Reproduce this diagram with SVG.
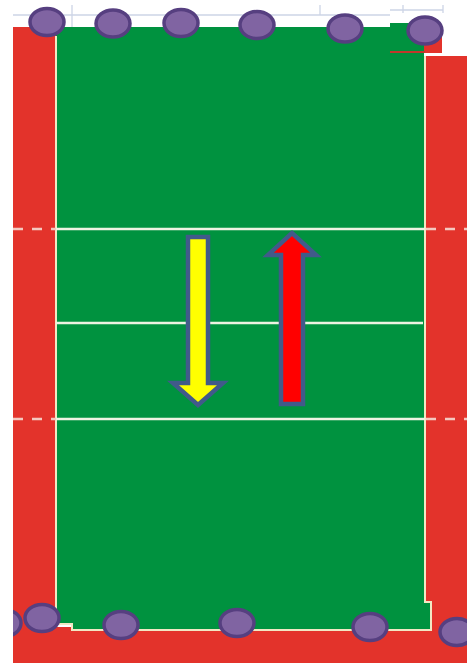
<svg xmlns="http://www.w3.org/2000/svg" width="467" height="663" viewBox="0 0 467 663">
<style>
.red{fill:#E3332B}
.grid{stroke:#CDD5E6;stroke-width:1.3;fill:none}
.edge{stroke:#F2E8C4;stroke-width:2;fill:none}
.line{stroke:#EEF3E2;stroke-width:2.5;fill:none}
.dash{stroke:#F4C9C0;stroke-width:2.5;fill:none;stroke-dasharray:10 9}
.ball{fill:#8064A2;stroke:#563F80;stroke-width:3.5}
.arrow{stroke:#415A8A;stroke-width:4.5;stroke-linejoin:miter}
</style>
<rect width="467" height="663" fill="#FFFFFF"/>
<g id="grid">
<path class="grid" d="M13 15H390M72 5V27M390 10H443M320 5V15M403 5V13M443 5V13"/>
</g>
<g id="surround">
<rect class="red" x="13" y="27" width="44" height="636"/>
<rect class="red" x="13" y="627" width="454" height="36"/>
<rect class="red" x="426" y="56" width="41" height="607"/>
<rect class="red" x="420" y="28" width="22" height="25"/>
</g>
<g id="court">
<path fill="#00923F" d="M56 27H390V23H424V602H431V630H72V624H56Z"/>
<path class="edge" d="M56 36V624H72V630H431V602H425V56"/>
<path d="M390 52H425" stroke="#C0392B" stroke-width="2"/>
</g>
<g id="connectors">
<path class="line" d="M56 229H425M56 323H423M56 419H425"/>
<path class="dash" d="M13 229H56M426 229H467M13 419H56M426 419H467"/>
</g>
<g id="yellow-arrow">
<path class="arrow" fill="#FFFF00" d="M188 237H208V383H223L198 405L173 383H188Z"/>
</g>
<g id="red-arrow">
<path class="arrow" fill="#FF0000" d="M281 404H303V255H316L292 233L268 255H281Z"/>
</g>
<g id="players-top">
<ellipse class="ball" cx="47" cy="22" rx="17" ry="13.5"/>
<ellipse class="ball" cx="113" cy="23.5" rx="17" ry="13.5"/>
<ellipse class="ball" cx="181" cy="23" rx="17" ry="13.5"/>
<ellipse class="ball" cx="257" cy="25" rx="17" ry="13.5"/>
<ellipse class="ball" cx="345" cy="28.5" rx="17" ry="13.5"/>
<ellipse class="ball" cx="425" cy="30.5" rx="17" ry="13.5"/>
</g>
<g id="players-bottom">
<ellipse class="ball" cx="4" cy="623" rx="17" ry="13.5"/>
<ellipse class="ball" cx="42" cy="618" rx="17" ry="13.5"/>
<ellipse class="ball" cx="121" cy="625" rx="17" ry="13.5"/>
<ellipse class="ball" cx="237" cy="623" rx="17" ry="13.5"/>
<ellipse class="ball" cx="370" cy="627" rx="17" ry="13.5"/>
<ellipse class="ball" cx="457" cy="632" rx="17" ry="13.5"/>
</g>
<rect x="0" y="0" width="13" height="663" fill="#FFFFFF"/>
</svg>
